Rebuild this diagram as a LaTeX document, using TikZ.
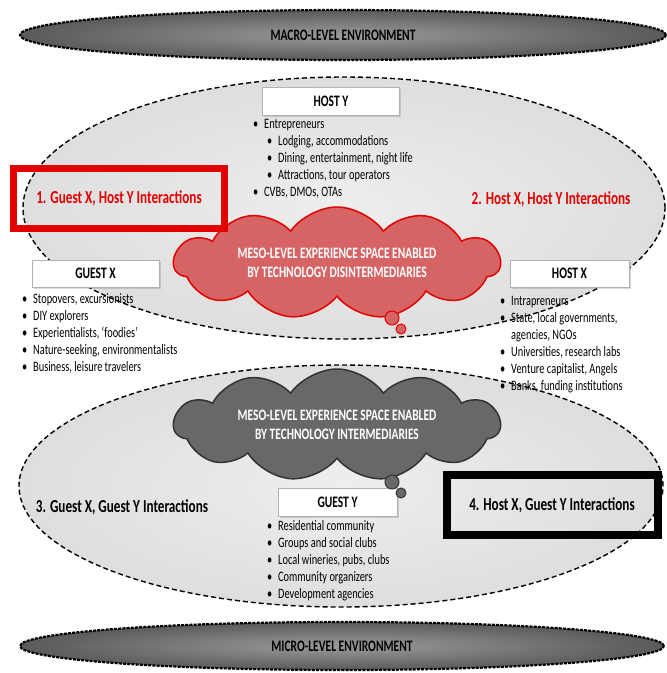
\documentclass[tikz,border=0pt]{standalone}
\usepackage{fontspec}
\setmainfont{Carlito}[FakeStretch=0.72]
\usepackage{tikz}
\usetikzlibrary{positioning}
\usetikzlibrary{shapes.geometric,shapes.symbols,shadows}

\definecolor{talkred}{RGB}{226,0,0}
\definecolor{cloudred}{RGB}{214,100,100}
\definecolor{cloudgray}{RGB}{104,104,104}
\definecolor{envlight}{RGB}{155,155,155}
\definecolor{envdark}{RGB}{90,90,90}
\definecolor{spacelight}{RGB}{238,238,238}
\definecolor{spacedark}{RGB}{222,222,222}

\newcommand{\itm}[1]{\makebox[11pt][l]{\textbullet}#1}
\newcommand{\subitm}[1]{\hspace*{14pt}\makebox[11pt][l]{\textbullet}#1}

\begin{document}
\begin{tikzpicture}[x=1pt,y=-1pt,
	env node/.style={ellipse,draw=black,line width=2.2pt,dash pattern=on 3pt off 1.2pt,shade,inner color=envlight,outer color=envdark,font=\fontsize{16}{18}\selectfont\bfseries},
	space node/.style={ellipse,draw=black,line width=1.4pt,dash pattern=on 5pt off 3pt,shade,inner color=spacelight,outer color=spacedark},
	title box/.style={rectangle,draw=gray!60,fill=white,drop shadow={shadow xshift=1.5pt,shadow yshift=-1.5pt,opacity=0.3},font=\fontsize{16}{18}\selectfont\bfseries},
	item list/.style={align=left,anchor=base west,inner sep=0pt,font=\fontsize{14.4}{17}\selectfont},
	meso cloud/.style={cloud,cloud puffs=11,cloud puff arc=110,cloud ignores aspect,line width=1.5pt,text=white,align=center,minimum width=326,minimum height=112,font=\fontsize{15.9}{19}\selectfont\bfseries},
	talk text/.style={font=\fontsize{18.3}{20}\selectfont\bfseries},
	talk box/.style={talk text,rectangle,minimum width=211,minimum height=60}]

	\useasboundingbox (0,0) rectangle (667,673);

	\node[env node,minimum width=646,minimum height=50] (macro) at (343,35) {MACRO-LEVEL ENVIRONMENT};
	\node[space node,minimum width=642,minimum height=262] (upper) at (344,208) {};
	\node[space node,minimum width=644,minimum height=242] (lower) at (341,486) {};
	\node[env node,minimum width=644,minimum height=48] (micro) at (342,646) {MICRO-LEVEL ENVIRONMENT};

	\node[title box,minimum width=137,minimum height=28] (hosty) at (331,101) {HOST Y};
	\node[item list] (hostylist) at (253,196.5) {\itm{Entrepreneurs}\\
		\subitm{Lodging, accommodations}\\
		\subitm{Dining, entertainment, night life}\\
		\subitm{Attractions, tour operators}\\
		\itm{CVBs, DMOs, OTAs}};

	\node[title box,minimum width=127,minimum height=27] (guestx) at (95.5,273.5) {GUEST X};
	\node[item list] (guestxlist) at (22,371.5) {\itm{Stopovers, excursionists}\\
		\itm{DIY explorers}\\
		\itm{Experientialists, `foodies'}\\
		\itm{Nature-seeking, environmentalists}\\
		\itm{Business, leisure travelers}};

	\node[title box,minimum width=119,minimum height=27] (hostx) at (569.5,273.5) {HOST X};
	\node[item list] (hostxlist) at (500,390.5) {\itm{Intrapreneurs}\\
		\itm{State, local governments,}\\
		\hspace*{11pt}agencies, NGOs\\
		\itm{Universities, research labs}\\
		\itm{Venture capitalist, Angels}\\
		\itm{Banks, funding institutions}};

	\node[meso cloud,draw=talkred,fill=cloudred] (redcloud) at (337,263) {MESO-LEVEL EXPERIENCE SPACE ENABLED\\BY TECHNOLOGY DISINTERMEDIARIES};
	\node[circle,draw=talkred,fill=cloudred,line width=1pt,minimum size=14,inner sep=0pt] (redbub1) at (392,318) {};
	\node[circle,draw=talkred,fill=cloudred,line width=1pt,minimum size=10,inner sep=0pt] (redbub2) at (401,329) {};

	\node[talk box,draw=talkred,line width=7pt,text=talkred] (talk1) at (119,198.5) {1. Guest X, Host Y Interactions};
	\node[talk text,text=talkred] (talk2) at (551,199) {2. Host X, Host Y Interactions};

	\node[title box,minimum width=119,minimum height=28] (guesty) at (337.5,502) {GUEST Y};
	\node[item list] (guestylist) at (267,598.5) {\itm{Residential community}\\
		\itm{Groups and social clubs}\\
		\itm{Local wineries, pubs, clubs}\\
		\itm{Community organizers}\\
		\itm{Development agencies}};

	\node[meso cloud,draw=black!80,fill=cloudgray] (graycloud) at (337,425) {MESO-LEVEL EXPERIENCE SPACE ENABLED\\BY TECHNOLOGY INTERMEDIARIES};
	\node[circle,draw=black!80,fill=cloudgray,line width=1pt,minimum size=14,inner sep=0pt] (graybub1) at (392,482) {};
	\node[circle,draw=black!80,fill=cloudgray,line width=1pt,minimum size=10,inner sep=0pt] (graybub2) at (401,493) {};

	\node[talk text] (talk3) at (122,507) {3. Guest X, Guest Y Interactions};
	\node[talk box,draw=black,line width=8pt] (talk4) at (552,505) {4. Host X, Guest Y Interactions};

\end{tikzpicture}
\end{document}
